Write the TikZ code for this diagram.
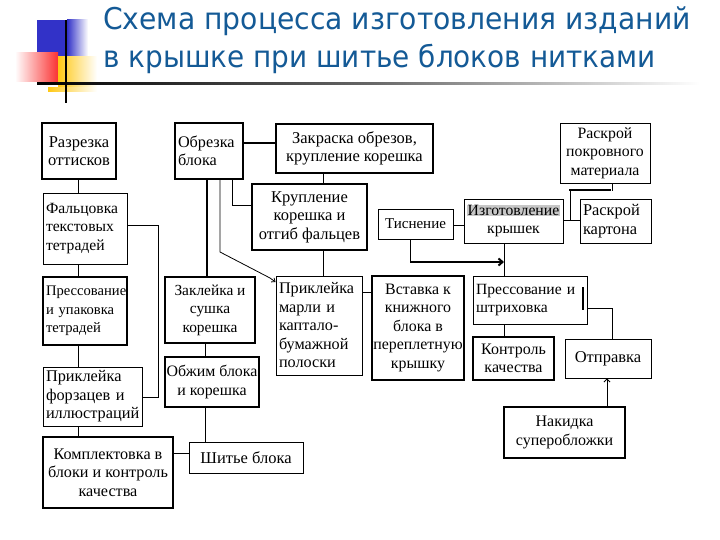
\documentclass[tikz,border=0pt]{standalone}
\usepackage{fontspec}
\setmainfont{Liberation Serif}
\newfontfamily\titlefont{DejaVu Sans}
\usetikzlibrary{arrows.meta}
\definecolor{titleblue}{RGB}{20,90,150}
\definecolor{logoblue}{RGB}{50,50,200}
\definecolor{logored}{RGB}{250,50,50}
\definecolor{logoyellow}{RGB}{255,200,20}
\begin{document}
\begin{tikzpicture}[x=1pt,y=-1pt,
  fs/.style={font=\fontsize{#1}{18.5}\selectfont},
  box/.style={draw, line width=0.9pt, inner sep=1pt, align=center, fs=15.5},
  tbox/.style={box, line width=2pt},
  lbox/.style={align=left, inner xsep=3pt},
  conn/.style={line width=0.8pt},
  tconn/.style={line width=2pt},
  ttl/.style={anchor=base west, text=titleblue, inner sep=0pt,
    font=\titlefont\fontsize{30}{36}\selectfont}]
\useasboundingbox (0,0) rectangle (720,540);
% logo
\fill[logoblue] (37,20) rectangle (67,57);
\shade[left color=logoblue, right color=white] (67,20) rectangle (88,57);
\shade[left color=white, right color=logored] (15,53) rectangle (58,82);
\shade[left color=logoyellow, right color=white] (58,57) rectangle (97,92);
\shade[left color=logoyellow, right color=white] (48,88) rectangle (97,92);
\shade[left color=black, right color=white, middle color=black!60] (37,83) rectangle (700,85);
\draw[line width=2pt] (66,20) -- (66,103);
% title
\node[ttl] (t1) at (103,30) {\scalebox{0.94}[1]{Схема процесса изготовления изданий}};
\node[ttl] (t2) at (103,68) {\scalebox{0.93}[1]{в крышке при шитье блоков нитками}};
% boxes
\node[tbox, fs=16.5, minimum width=74pt, minimum height=56pt] (razr) at (79,151) {Разрезка\\оттисков};
\node[tbox, fs=16.2, lbox, text width=62pt, minimum height=56pt] (obrez) at (209,151) {Обрезка\\блока};
\node[tbox, fs=16.5, minimum width=157pt, minimum height=49pt] (zakr) at (354.5,148.5) {Закраска обрезов,\\крупление корешка};
\node[box, fs=15.8, minimum width=90pt, minimum height=60pt] (raskrP) at (605,153) {Раскрой\\покровного\\материала};
\node[box, fs=15.6, lbox, text width=78pt, minimum height=71pt] (falc) at (85,228.5) {Фальцовка\\текстовых\\тетрадей};
\node[tbox, fs=16.5, minimum width=115pt, minimum height=66pt] (krupl) at (309.5,217) {Крупление\\корешка и\\отгиб фальцев};
\node[box, fs=15, minimum width=75pt, minimum height=30pt] (tisn) at (415.5,224) {Тиснение};
\node[box, fs=15.7, minimum width=99pt, minimum height=44pt] (izgot) at (513.5,221) {{\setlength{\fboxsep}{0.5pt}\colorbox{black!22}{Изготовление}}\\крышек};
\node[box, fs=16.4, lbox, text width=65pt, minimum height=44pt] (raskrK) at (615.5,221) {Раскрой\\картона};
\node[tbox, fs=14.6, lbox, text width=78pt, minimum height=68pt] (press1) at (85,311) {Прессование\\и упаковка\\тетрадей};
\node[tbox, fs=15.4, minimum width=90pt, minimum height=66pt] (zakl) at (210,310) {Заклейка и\\сушка\\корешка};
\node[box, fs=16.2, lbox, text width=80pt, minimum height=99pt] (prikM) at (319,325.5) {Приклейка\\марли и\\капталo-\\бумажной\\полоски};
\node[tbox, fs=15.9, minimum width=90pt, minimum height=104pt] (vstav) at (418,328) {Вставка к\\книжного\\блока в\\переплетную\\крышку};
\node[box, fs=15.6, lbox, text width=108pt, minimum height=48pt] (press2) at (530,300) {Прессование и\\штриховка};
\node[tbox, fs=16, minimum width=81pt, minimum height=43pt] (kontr) at (513.5,358.5) {Контроль\\качества};
\node[box, fs=16.5, minimum width=86pt, minimum height=39pt] (otpr) at (608,358.5) {Отправка};
\node[tbox, fs=16, minimum width=121pt, minimum height=51pt] (nakid) at (564.5,432.5) {Накидка\\суперобложки};
\node[box, fs=16.3, lbox, text width=93pt, minimum height=59pt] (prikF) at (92.5,396.5) {Приклейка\\форзацев и\\иллюстраций};
\node[tbox, fs=15.9, minimum width=94pt, minimum height=50pt] (obzh) at (212,382) {Обжим блока\\и корешка};
\node[tbox, fs=16.2, minimum width=130pt, minimum height=71pt] (kompl) at (108,472.5) {Комплектовка в\\блоки и контроль\\качества};
\node[box, fs=16.5, minimum width=114pt, minimum height=31pt] (shit) at (246,457.5) {Шитье блока};
% cursor bar
\draw[line width=2pt] (583,287) -- (583,310);
% connectors left column
\draw[conn] (razr.south -| 78,0) -- (falc.north -| 78,0);
\draw[conn] (falc.south -| 78,0) -- (press1.north -| 78,0);
\draw[conn] (press1.south -| 78,0) -- (prikF.north -| 78,0);
\draw[conn] (prikF.south -| 78,0) -- (kompl.north -| 78,0);
\draw[conn] (falc.east |- 0,225) -- (158,225) -- (158,397) -- (prikF.east |- 0,397);
\draw[conn] (kompl.east |- 0,453) -- (shit.west |- 0,453);
% second column
\draw[conn] (shit.north -| 205,0) -- (obzh.south -| 205,0);
\draw[conn] (obzh.north -| 205,0) -- (zakl.south -| 205,0);
\draw[tconn] (obrez.south -| 207,0) -- (zakl.north -| 207,0);
\coordinate (d1) at (270,278);
\draw[conn] (obrez.south -| 220,0) -- (220,252) -- (d1);
\draw[conn, -{Straight Barb[length=3pt,width=5pt]}] (d1) -- (prikM.west |- 0,282);
\draw[conn] (obrez.south -| 232,0) -- (232,205) -- (krupl.west |- 0,205);
\draw[tconn] (obrez.east |- 0,143) -- (zakr.west |- 0,143);
\draw[conn] (zakr.south -| 323,0) -- (krupl.north -| 323,0);
\draw[conn] (krupl.south -| 323,0) -- (prikM.north -| 323,0);
\draw[conn] (prikM.east |- 0,292) -- (vstav.west |- 0,292);
% right part
\draw[conn] (tisn.east |- 0,225) -- (izgot.west |- 0,225);
\draw[conn] (tisn.south -| 410,0) -- (410,262);
\coordinate (j1) at (504,262);
\draw[tconn, -{Straight Barb[length=4pt,width=7pt]}] (410,262) -- (j1);
\draw[conn] (izgot.south -| j1) -- (press2.north -| j1);
\draw[conn] (izgot.east |- 0,220) -- (raskrK.west |- 0,220);
\draw[conn] (570,220) -- (570,190);
\draw[tconn] (569,190) -- (611,190);
\draw[conn] (raskrP.south -| 612,0) -- (612,191);
\draw[conn] (press2.south -| j1) -- (kontr.north -| j1);
\draw[conn] (press2.east |- 0,308) -- (612,308) -- (otpr.north -| 612,0);
\draw[conn, -{Straight Barb[length=3pt,width=6pt]}] (nakid.north -| 607,0) -- (otpr.south -| 607,0);
\end{tikzpicture}
\end{document}
